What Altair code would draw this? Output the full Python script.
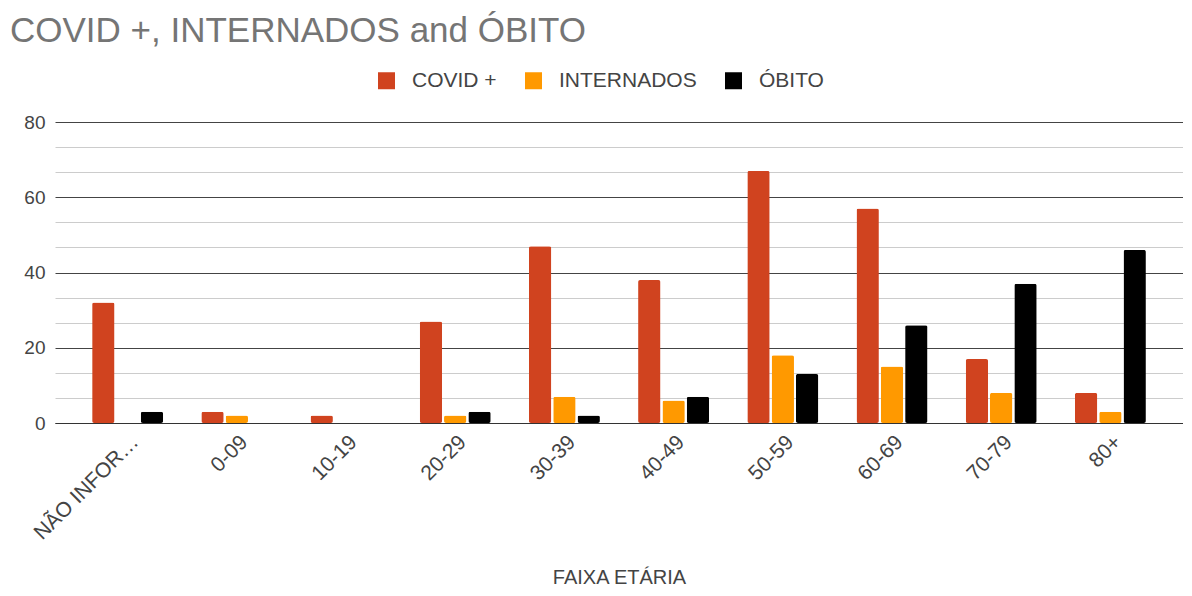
import altair as alt
import pandas as pd

categories = ["NÃO INFORMADO", "0-09", "10-19", "20-29", "30-39", "40-49",
              "50-59", "60-69", "70-79", "80+"]
series = ["COVID +", "INTERNADOS", "ÓBITO"]
covid = [32, 3, 2, 27, 47, 38, 67, 57, 17, 8]
internados = [0, 2, 0, 2, 7, 6, 18, 15, 8, 3]
obito = [3, 0, 0, 3, 2, 7, 13, 26, 37, 46]
colors = ["#d0431f", "#ff9900", "#000000"]
y_ticks = [i * 20 / 3 for i in range(13)]

rows = []
for s, vals in zip(series, [covid, internados, obito]):
    for c, v in zip(categories, vals):
        rows.append({"FAIXA ETÁRIA": c, "serie": s, "valor": v})
df = pd.DataFrame(rows)

FONT = "Liberation Sans"
major = "abs(datum.value - round(datum.value/20)*20) < 0.01"

chart = alt.Chart(df).mark_bar(cornerRadius=2).encode(
    x=alt.X("FAIXA ETÁRIA:N", sort=categories,
            scale=alt.Scale(paddingInner=0.35, paddingOuter=0.34),
            axis=alt.Axis(labelAngle=-45, labelFontSize=21, labelColor="#444",
                          labelLimit=150, labelPadding=8, ticks=False,
                          labelExpr="datum.label == 'NÃO INFORMADO' ? 'NÃO INFOR…' : datum.label",
                          domainColor="#333", domainWidth=1,
                          titleFontSize=20, titleColor="#444", titleFontWeight="normal",
                          titleY=144, titleBaseline="top")),
    xOffset=alt.XOffset("serie:N", sort=series,
                        scale=alt.Scale(paddingInner=0.08, paddingOuter=0)),
    y=alt.Y("valor:Q", scale=alt.Scale(domain=[0, 80], nice=False),
            axis=alt.Axis(values=y_ticks, title=None, domain=False, ticks=False,
                          labelFontSize=19, labelColor="#444", labelPadding=10,
                          labelExpr=major + " ? datum.label : ''",
                          gridColor={"condition": {"test": major, "value": "#444"},
                                     "value": "#cccccc"})),
    color=alt.Color("serie:N", sort=series,
                    scale=alt.Scale(domain=series, range=colors),
                    legend=alt.Legend(title=None, orient="none", direction="horizontal",
                                      legendX=321, legendY=-52,
                                      symbolType="square", symbolSize=289,
                                      symbolStrokeWidth=0, symbolOpacity=1,
                                      labelFontSize=21, labelColor="#444",
                                      labelOffset=15, columnPadding=26)),
).properties(
    width=1128,
    height=301,
    title=alt.TitleParams("COVID +, INTERNADOS and ÓBITO", anchor="start",
                          frame="group", orient="top",
                          fontSize=35, color="#757575", fontWeight="normal",
                          font=FONT, baseline="top", offset=0, dx=-45, dy=-21),
    autosize=alt.AutoSizeParams(type="none"),
    padding={"left": 47, "top": 114, "right": 0, "bottom": 165},
).configure(font=FONT).configure_view(stroke=None)

chart.save("out.html", embed_options={"renderer": "svg", "actions": False})
